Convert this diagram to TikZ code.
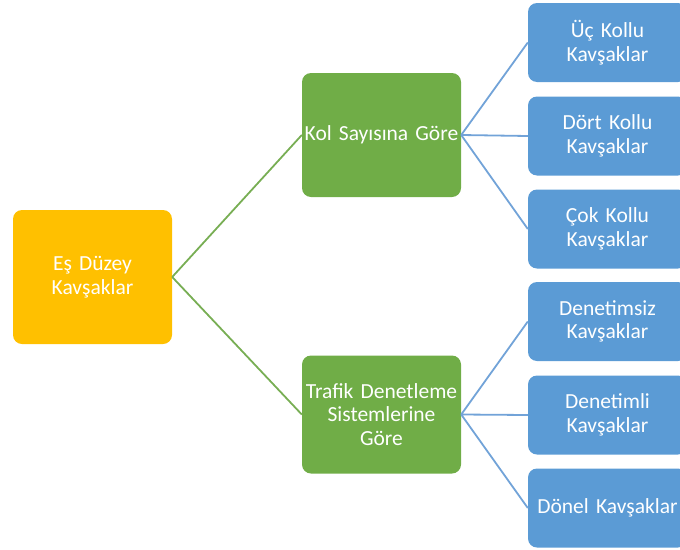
\documentclass[tikz,border=0pt]{standalone}
\usepackage{fontspec}
\setmainfont{Carlito}
\usepackage{xcolor}
\usetikzlibrary{positioning}

\definecolor{rootfill}{HTML}{FFC000}
\definecolor{groupfill}{HTML}{70AD47}
\definecolor{leaffill}{HTML}{5B9BD5}
\definecolor{groupline}{HTML}{78AE54}
\definecolor{leafline}{HTML}{72A3D8}

\tikzset{
    box/.style={rounded corners=9pt, text=white, align=center, inner sep=0.5pt,
        minimum width=159pt, text width=158pt,
        font=\fontsize{21.5}{23.5}\selectfont},
    rootbox/.style={box, fill=rootfill, minimum height=134pt},
    groupbox/.style={box, fill=groupfill},
    leafbox/.style={box, fill=leaffill, minimum height=79pt},
    groupedge/.style={draw=groupline, line width=1.8pt},
    leafedge/.style={draw=leafline, line width=1.8pt}
}

\begin{document}
\begin{tikzpicture}[x=1pt, y=-1pt]
                    \useasboundingbox (0, 0) rectangle (680, 549);
                    \clip (0, 0) rectangle (680, 549);

                    \node[rootbox] (esduzey) at (92.5, 277) {Eş Düzey\\Kavşaklar};

                    \node[groupbox, minimum height=124pt] (kolsayisi) at (381.5, 135) {Kol Sayısına Göre};
                    \node[groupbox, minimum height=118pt] (trafik) at (381.5, 414.5) {Trafik Denetleme\\Sistemlerine\\Göre};

                    \node[leafbox] (uckollu) at (607.5, 42.5) {Üç Kollu\\Kavşaklar};
                    \node[leafbox] (dortkollu) at (607.5, 136) {Dört Kollu\\Kavşaklar};
                    \node[leafbox] (cokkollu) at (607.5, 229) {Çok Kollu\\Kavşaklar};

                    \node[leafbox] (denetimsiz) at (607.5, 321.5) {Denetimsiz\\Kavşaklar};
                    \node[leafbox] (denetimli) at (607.5, 415) {Denetimli\\Kavşaklar};
                    \node[leafbox] (donel) at (607.5, 508) {Dönel Kavşaklar};

                    \draw[groupedge]
                    (esduzey.east) -- (kolsayisi.west)
                    (esduzey.east) -- (trafik.west);

                    \draw[leafedge]
                    (kolsayisi.east) -- (uckollu.west)
                    (kolsayisi.east) -- (dortkollu.west)
                    (kolsayisi.east) -- (cokkollu.west);

                    \draw[leafedge]
                    (trafik.east) -- (denetimsiz.west)
                    (trafik.east) -- (denetimli.west)
                    (trafik.east) -- (donel.west);
                \end{tikzpicture}
\end{document}
